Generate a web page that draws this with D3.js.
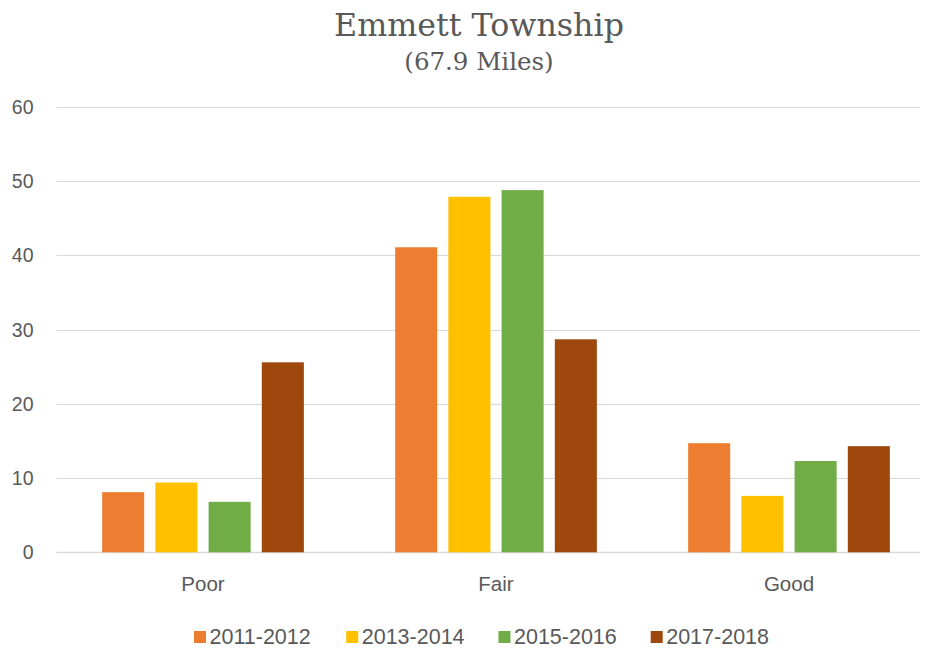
<!DOCTYPE html>
<html><head><meta charset="utf-8">
<script src="https://cdn.jsdelivr.net/npm/d3@7"></script>
<style>body{margin:0;background:#fff}svg{display:block}</style>
</head><body>
<svg id="c" width="925" height="649"></svg>
<script>
const categories = ["Poor", "Fair", "Good"];
const seriesNames = ["2011-2012", "2013-2014", "2015-2016", "2017-2018"];
const s2011 = [8.1, 41.1, 14.7];
const s2013 = [9.4, 47.9, 7.6];
const s2015 = [6.8, 48.8, 12.3];
const s2017 = [25.6, 28.7, 14.3];
const yTicks = [0, 10, 20, 30, 40, 50, 60];
const colors = ["#ED7D31", "#FFC000", "#70AD47", "#9E480E"];
const seriesValues = [s2011, s2013, s2015, s2017];

(function () {
const svg = d3.select("#c");
const W = 925;
const mLeft = 56.5, mRight = 935.5, mTop = 107, mBottom = 552.3;
const textColor = "#595959";
const sans = "'Liberation Sans', Arial, sans-serif";

const x = d3.scaleBand().domain(categories).range([mLeft, mRight]).padding(0);
const inner = d3.scaleBand().domain(seriesNames)
  .range([x.bandwidth()/2 - 100.85, x.bandwidth()/2 + 100.85]).paddingInner(0.21).paddingOuter(0);
const y = d3.scaleLinear().domain([0, 60]).range([mBottom, mTop]);

svg.append("g").selectAll("line").data(yTicks).join("line")
  .attr("x1", mLeft).attr("x2", Math.min(mRight, W - 5))
  .attr("y1", d => Math.round(y(d)) + 0.5).attr("y2", d => Math.round(y(d)) + 0.5)
  .attr("stroke", "#D9D9D9").attr("stroke-width", d => d === 0 ? 1.5 : 1.2);

svg.append("g").selectAll("text").data(yTicks).join("text")
  .attr("x", 33.5).attr("y", d => y(d)).attr("dy", "0.36em")
  .attr("text-anchor", "end").attr("font-family", sans).attr("font-size", 19.5)
  .attr("fill", textColor).text(d => d);

const rows = [];
seriesNames.forEach((s, i) => categories.forEach((c, j) => rows.push({s, c, v: seriesValues[i][j], i})));
svg.append("g").selectAll("rect").data(rows).join("rect")
  .attr("x", d => x(d.c) + inner(d.s))
  .attr("width", inner.bandwidth())
  .attr("y", d => y(d.v))
  .attr("height", d => y(0) - y(d.v))
  .attr("fill", d => colors[d.i]);

svg.append("g").selectAll("text").data(categories).join("text")
  .attr("x", d => x(d) + x.bandwidth()/2).attr("y", 591)
  .attr("text-anchor", "middle").attr("font-family", sans).attr("font-size", 20.5)
  .attr("fill", textColor).text(d => d);

svg.append("text").attr("x", 479).attr("y", 36).attr("text-anchor", "middle")
  .attr("font-family", "'DejaVu Serif', serif").attr("font-size", 31.7).attr("fill", textColor)
  .text("Emmett Township");
svg.append("text").attr("x", 479).attr("y", 70).attr("text-anchor", "middle")
  .attr("font-family", "'DejaVu Serif', serif").attr("font-size", 24.5).attr("fill", textColor)
  .text("(67.9 Miles)");

const legX = d3.scalePoint().domain(seriesNames).range([194, 650.7]);
const lg = svg.append("g").selectAll("g").data(seriesNames).join("g")
  .attr("transform", d => `translate(${legX(d)},631)`);
lg.append("rect").attr("width", 12).attr("height", 12).attr("fill", (d, i) => colors[i]);
lg.append("text").attr("x", 15.5).attr("y", 13.3).attr("font-family", sans).attr("font-size", 21.5)
  .attr("fill", textColor).text(d => d);
})();
</script>
</body></html>
